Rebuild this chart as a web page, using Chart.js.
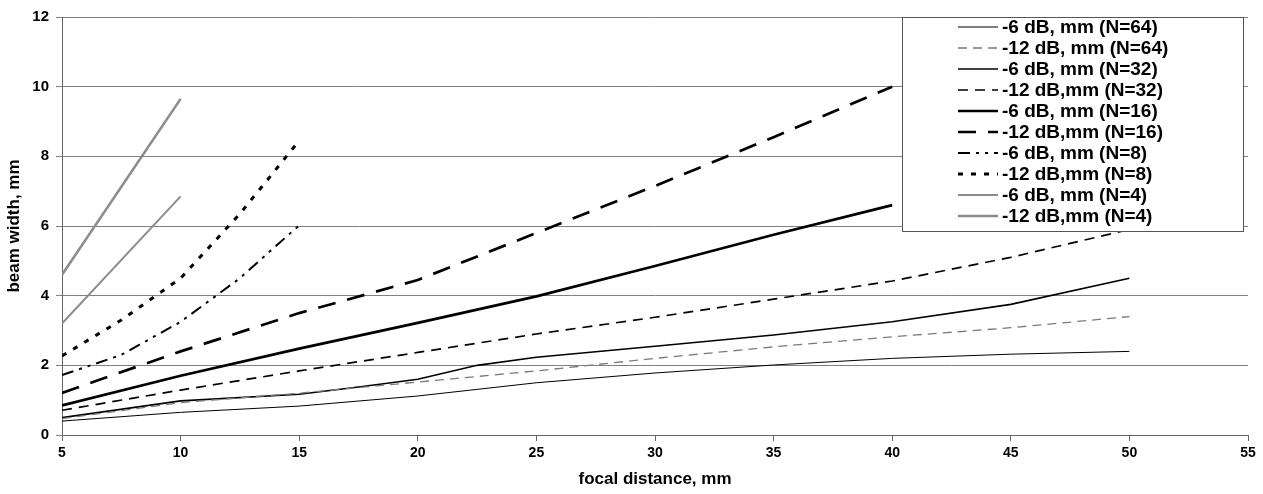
<!DOCTYPE html>
<html><head><meta charset="utf-8">
<script src="https://cdn.jsdelivr.net/npm/chart.js@4.4.1/dist/chart.umd.min.js"></script>
<style>html,body{margin:0;padding:0;background:#fff;} #wrap{width:1263px;height:494px;position:relative;}</style>
</head><body><div id="wrap"><canvas id="c"></canvas></div>
<script>
// ---- data ----
const xTicks = [5, 10, 15, 20, 25, 30, 35, 40, 45, 50, 55];
const yTicks = [0, 2, 4, 6, 8, 10, 12];
const labels = [
  '-6 dB, mm (N=64)', '-12 dB, mm (N=64)',
  '-6 dB, mm (N=32)', '-12 dB,mm (N=32)',
  '-6 dB, mm (N=16)', '-12 dB,mm (N=16)',
  '-6 dB, mm (N=8)', '-12 dB,mm (N=8)',
  '-6 dB, mm (N=4)', '-12 dB,mm (N=4)'
];
const x64 = [5, 10, 15, 20, 25, 30, 35, 40, 45, 50];
const n64_6 = [0.40, 0.65, 0.83, 1.12, 1.50, 1.78, 2.01, 2.20, 2.32, 2.40];
const n64_12 = [0.47, 0.93, 1.20, 1.52, 1.84, 2.20, 2.53, 2.82, 3.08, 3.40];
const x32_6 = [5, 10, 15, 17.5, 20, 22.5, 25, 30, 35, 40, 45, 50];
const n32_6 = [0.50, 0.98, 1.17, 1.38, 1.60, 2.00, 2.23, 2.55, 2.87, 3.25, 3.75, 4.50];
const x32_12 = [5, 10, 15, 20, 25, 30, 35, 40, 45, 50];
const n32_12 = [0.71, 1.29, 1.84, 2.37, 2.90, 3.38, 3.90, 4.42, 5.10, 5.90];
const x16 = [5, 10, 15, 20, 25, 30, 35, 40];
const n16_6 = [0.85, 1.70, 2.48, 3.22, 3.98, 4.85, 5.75, 6.60];
const n16_12 = [1.21, 2.40, 3.50, 4.45, 5.80, 7.15, 8.55, 10.00];
const x8 = [5, 7.5, 10, 12.5, 15];
const n8_6 = [1.72, 2.30, 3.25, 4.50, 6.02];
const n8_12 = [2.27, 3.30, 4.50, 6.35, 8.45];
const x4 = [5, 10];
const n4_6 = [3.20, 6.85];
const n4_12 = [4.60, 9.65];

const pts = (xs, ys) => xs.map((x, i) => ({x: x, y: ys[i]}));
const seriesData = [
  pts(x64, n64_6), pts(x64, n64_12),
  pts(x32_6, n32_6), pts(x32_12, n32_12),
  pts(x16, n16_6), pts(x16, n16_12),
  pts(x8, n8_6), pts(x8, n8_12),
  pts(x4, n4_6), pts(x4, n4_12)
];
const styles = [
  {c: '#000', w: 1, d: []},
  {c: '#7a7a7a', w: 1.3, d: [9, 6]},
  {c: '#000', w: 1.6, d: []},
  {c: '#000', w: 1.7, d: [10, 7]},
  {c: '#000', w: 2.7, d: []},
  {c: '#000', w: 2.7, d: [18, 12]},
  {c: '#000', w: 2, d: [12, 6, 3, 6, 3, 6]},
  {c: '#000', w: 3, d: [5, 8]},
  {c: '#8c8c8c', w: 2, d: []},
  {c: '#8c8c8c', w: 2.6, d: []}
];

const datasets = labels.map((l, i) => ({
  label: l, data: seriesData[i],
  borderColor: styles[i].c, backgroundColor: styles[i].c,
  borderWidth: styles[i].w, borderDash: styles[i].d,
  pointRadius: 0, tension: 0, fill: false
}));

const FONT = '"Liberation Sans", Arial, sans-serif';

const boxLegend = {
  id: 'boxLegend',
  afterDraw(chart) {
    const ctx = chart.ctx;
    const L = 902, T = 17, R = 1243, B = 231;
    ctx.save();
    ctx.fillStyle = '#fff';
    ctx.fillRect(L, T, R - L, B - T);
    ctx.strokeStyle = '#555';
    ctx.lineWidth = 1;
    ctx.strokeRect(L + 0.5, T + 0.5, R - L, B - T);
    chart.data.datasets.forEach((ds, i) => {
      const y = 27 + 21 * i;
      ctx.setLineDash(ds.borderDash || []);
      ctx.strokeStyle = ds.borderColor;
      ctx.lineWidth = ds.borderWidth;
      ctx.beginPath(); ctx.moveTo(958, y); ctx.lineTo(998, y); ctx.stroke();
      ctx.setLineDash([]);
      ctx.fillStyle = '#000';
      ctx.font = 'bold 19px ' + FONT;
      ctx.textBaseline = 'middle';
      ctx.fillText(ds.label, 1002, y + 1);
    });
    ctx.restore();
  }
};

new Chart(document.getElementById('c'), {
  type: 'line',
  data: {datasets},
  plugins: [boxLegend],
  options: {
    responsive: true, maintainAspectRatio: false, animation: false,
    layout: {padding: {left: 0, right: 15, top: 17, bottom: 0}},
    plugins: {legend: {display: false}, tooltip: {enabled: false}},
    scales: {
      x: {
        type: 'linear', min: 5, max: 55,
        afterBuildTicks: s => { s.ticks = xTicks.map(v => ({value: v})); },
        afterFit: s => { s.height = 59; },
        grid: {drawOnChartArea: false, tickLength: 6, color: '#666'},
        border: {color: '#666', width: 1},
        ticks: {color: '#000', font: {family: FONT, weight: 'bold', size: 14}, padding: 4, maxRotation: 0},
        title: {display: true, text: 'focal distance, mm', color: '#000', font: {family: FONT, weight: 'bold', size: 17}, padding: {top: 0}}
      },
      y: {
        min: 0, max: 12,
        afterBuildTicks: s => { s.ticks = yTicks.map(v => ({value: v})); },
        afterFit: s => { s.width = 62; },
        grid: {color: '#808080', tickLength: 6},
        border: {color: '#666', width: 1},
        ticks: {color: '#000', font: {family: FONT, weight: 'bold', size: 15}, padding: 7},
        title: {display: true, text: 'beam width, mm', color: '#000', font: {family: FONT, weight: 'bold', size: 17}, padding: {bottom: 2}}
      }
    }
  }
});
</script>
</body></html>
